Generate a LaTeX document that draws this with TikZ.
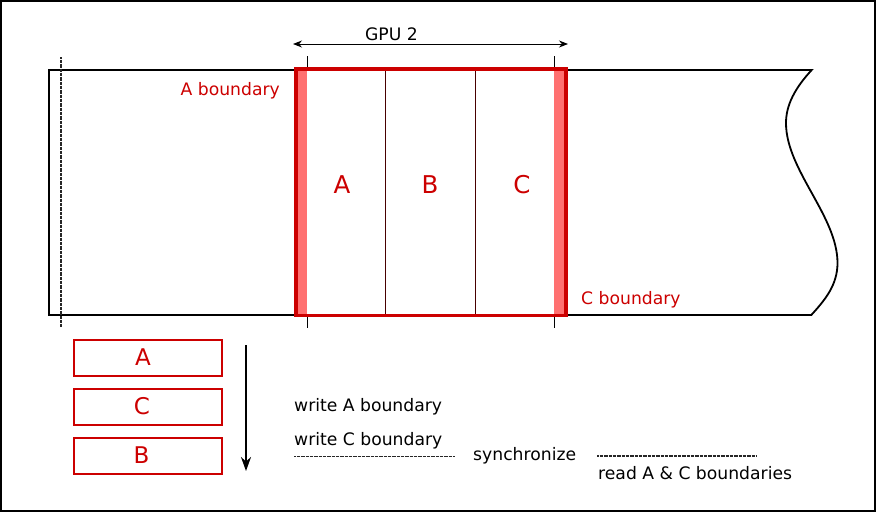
\documentclass[tikz,border=0pt]{standalone}
\usepackage{fontspec}
\setmainfont{DejaVu Sans}
\usetikzlibrary{arrows.meta}
\definecolor{dred}{HTML}{CC0000}
\definecolor{lred}{HTML}{FF7070}
\tikzset{
  small/.style={font=\fontsize{17.2}{20}\selectfont, inner sep=0pt},
  redsmall/.style={small, text=dred},
  bigletter/.style={font=\fontsize{24.5}{28}\selectfont, text=dred, inner sep=0pt},
  slot/.style={draw=dred, line width=2pt, minimum width=148pt, minimum height=36pt, inner sep=0pt, font=\fontsize{23}{27}\selectfont, text=dred},
  dotline/.style={line width=1.1pt, black!85, dash pattern=on 0.8pt off 0.5pt},
}
\begin{document}
\begin{tikzpicture}[x=1pt,y=-1pt]
\useasboundingbox (0,0) rectangle (876,512);
\draw[line width=2pt] (1,1) rectangle (875,511);
% main strip
\draw[line width=1.8pt] (49,70) -- (811.7,70) .. controls (795,88) and (786,105) .. (786,123)
  .. controls (786,170) and (837.5,216) .. (837.5,263)
  .. controls (837.5,285) and (825,300) .. (811.3,315) -- (49,315) -- cycle;
% dotted line left
\coordinate (l1) at (61,57); \coordinate (l2) at (61,327);
\draw[dotline] (l1) -- (l2);
% ticks
\coordinate (t1a) at (307,56); \coordinate (t1b) at (307,70);
\coordinate (t2a) at (554,56); \coordinate (t2b) at (554,70);
\coordinate (t3a) at (307,315); \coordinate (t3b) at (307,328);
\coordinate (t4a) at (554,315); \coordinate (t4b) at (554,328);
\draw[line width=1pt] (t1a) -- (t1b) (t2a) -- (t2b) (t3a) -- (t3b) (t4a) -- (t4b);
% light fills
\fill[lred] (295.5,69) rectangle (307,315.5);
\fill[lred] (553.5,69) rectangle (566,315.5);
% inner lines
\coordinate (v1a) at (385.7,70); \coordinate (v1b) at (385.7,315);
\coordinate (v2a) at (475.7,70); \coordinate (v2b) at (475.7,315);
\draw[line width=1pt, black!60!red!70!black] (v1a) -- (v1b) (v2a) -- (v2b);
% red rectangle
\draw[dred, line width=3.2pt] (296,69) rectangle (566,315.5);
% letters
\node[bigletter, anchor=base] (lA) at (342,193) {A};
\node[bigletter, anchor=base] (lB) at (430,193) {B};
\node[bigletter, anchor=base] (lC) at (522,193) {C};
% boundary labels
\node[redsmall, anchor=base east] (ab) at (280,95.5) {A boundary};
\node[redsmall, anchor=base west] (cb) at (581,304) {C boundary};
% GPU 2
\coordinate (g1) at (293,44); \coordinate (g2) at (568,44);
\draw[{Stealth[length=9pt,width=7pt]}-{Stealth[length=9pt,width=7pt]}, line width=0.9pt] (g1) -- (g2);
\node[small, anchor=base] (gpu) at (391.5,40) {GPU 2};
% boxes
\node[slot] (bA) at (147.5,357.5) {A\kern9pt};
\node[slot] (bC) at (147.5,406.5) {C\kern11pt};
\node[slot] (bB) at (147.5,455.5) {B\kern12pt};
% down arrow
\coordinate (d1) at (246,345); \coordinate (d2) at (246,471);
\draw[-{Stealth[length=14pt,width=10pt]}, line width=2pt] (d1) -- (d2);
% sequence text
\node[small, anchor=base west] (wa) at (294,411.5) {write A boundary};
\node[small, anchor=base west] (wc) at (294,445) {write C boundary};
\coordinate (s1) at (294,456.5); \coordinate (s2) at (454,456.5);
\draw[dotline] (s1) -- (s2);
\node[small, anchor=base west] (sy) at (473,460) {synchronize};
\coordinate (r1) at (597,456); \coordinate (r2) at (756,456);
\draw[dotline] (r1) -- (r2);
\node[small, anchor=base west] (rd) at (598,479.5) {read A \& C boundaries};
\end{tikzpicture}
\end{document}
